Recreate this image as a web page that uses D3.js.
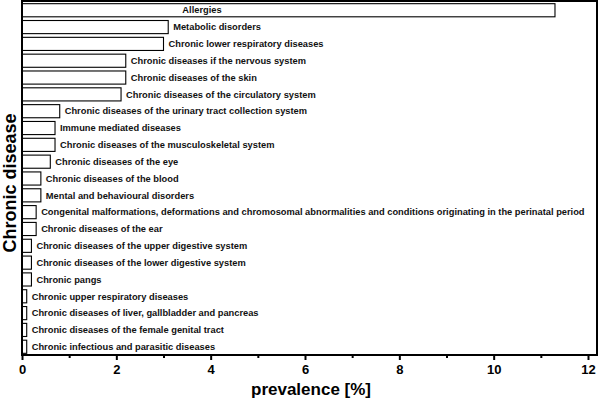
<!DOCTYPE html>
<html>
<head>
<meta charset="utf-8">
<script src="https://cdnjs.cloudflare.com/ajax/libs/d3/7.8.5/d3.min.js"></script>
<style>
  body { margin: 0; background: #fff; }
  svg { font-family: "Liberation Sans", Arial, sans-serif; }
</style>
</head>
<body>
<svg id="chart"></svg>
<script>
var categories = [
    "Allergies",
    "Metabolic disorders",
    "Chronic lower respiratory diseases",
    "Chronic diseases if the nervous system",
    "Chronic diseases of the skin",
    "Chronic diseases of the circulatory system",
    "Chronic diseases of the urinary tract collection system",
    "Immune mediated diseases",
    "Chronic diseases of the musculoskeletal system",
    "Chronic diseases of the eye",
    "Chronic diseases of the blood",
    "Mental and behavioural disorders",
    "Congenital malformations, deformations and chromosomal abnormalities and conditions originating in the perinatal period",
    "Chronic diseases of the ear",
    "Chronic diseases of the upper digestive system",
    "Chronic diseases of the lower digestive system",
    "Chronic pangs",
    "Chronic upper respiratory diseases",
    "Chronic diseases of liver, gallbladder and pancreas",
    "Chronic diseases of the female genital tract",
    "Chronic infectious and parasitic diseases"
];
var prevalence = [11.3, 3.1, 3.0, 2.2, 2.2, 2.1, 0.8, 0.7, 0.7, 0.6, 0.4, 0.4, 0.3, 0.3, 0.2, 0.2, 0.2, 0.1, 0.1, 0.1, 0.1];
var majorTicks = [0, 2, 4, 6, 8, 10, 12];
var minorTicks = [1, 3, 5, 7, 9, 11];

var dimensions = {
    width: 600,
    height: 401,
    margin: { top: 1, bottom: 46, right: 3, left: 22 }
};

var svg = d3.select("#chart")
    .attr("width", dimensions.width)
    .attr("height", dimensions.height);

var plotRight = dimensions.width - dimensions.margin.right;
var plotBottom = dimensions.height - dimensions.margin.bottom;

// x runs 0..12 but the frame extends a bit past 12
var xScale = d3.scaleLinear()
    .domain([0, 12])
    .range([dimensions.margin.left, 588]);

var yScale = d3.scaleBand()
    .domain(categories)
    .range([dimensions.margin.top + 1, plotBottom])
    .paddingInner(0.22)
    .paddingOuter(0.1);

// bars
svg.selectAll(".bar")
    .data(categories)
    .enter()
    .append("rect")
    .attr("class", "bar")
    .attr("x", xScale(0))
    .attr("y", d => yScale(d))
    .attr("width", (d, i) => xScale(prevalence[i]) - xScale(0))
    .attr("height", yScale.bandwidth())
    .attr("fill", "white")
    .attr("stroke", "black")
    .attr("stroke-width", 1.1);

// bar labels
svg.selectAll(".label")
    .data(categories)
    .enter()
    .append("text")
    .attr("class", "label")
    .attr("x", (d, i) => prevalence[i] > 10 ? xScale(3.4) : xScale(prevalence[i]) + 5)
    .attr("y", d => yScale(d) + yScale.bandwidth() / 2)
    .attr("dy", "0.35em")
    .attr("font-size", "9.3px")
    .attr("font-weight", "bold")
    .attr("fill", "#111")
    .text(d => d);

// x axis: major and minor ticks
var xAxis = d3.axisBottom(xScale)
    .tickValues(majorTicks)
    .tickSize(5)
    .tickFormat(d3.format("d"));
var gx = svg.append("g")
    .attr("transform", `translate(0, ${plotBottom})`)
    .call(xAxis);
gx.select(".domain").remove();
gx.selectAll(".tick line").attr("stroke-width", 2);
gx.selectAll(".tick text")
    .attr("font-size", "13px")
    .attr("font-weight", "bold")
    .attr("font-family", "Liberation Sans, Arial, sans-serif")
    .attr("y", 10);

var xMinor = d3.axisBottom(xScale)
    .tickValues(minorTicks)
    .tickSize(3)
    .tickFormat("");
var gm = svg.append("g")
    .attr("transform", `translate(0, ${plotBottom})`)
    .call(xMinor);
gm.select(".domain").remove();
gm.selectAll(".tick line").attr("stroke-width", 2);

// frame
svg.append("rect")
    .attr("x", dimensions.margin.left)
    .attr("y", dimensions.margin.top)
    .attr("width", plotRight - dimensions.margin.left)
    .attr("height", plotBottom - dimensions.margin.top)
    .attr("fill", "none")
    .attr("stroke", "black")
    .attr("stroke-width", 2);

// axis titles
svg.append("text")
    .attr("x", 311)
    .attr("y", 395)
    .attr("text-anchor", "middle")
    .attr("font-size", "17px")
    .attr("font-weight", "bold")
    .text("prevalence [%]");

svg.append("text")
    .attr("transform", "translate(16, 183) rotate(-90)")
    .attr("text-anchor", "middle")
    .attr("font-size", "18px")
    .attr("font-weight", "bold")
    .text("Chronic disease");
</script>
</body>
</html>
